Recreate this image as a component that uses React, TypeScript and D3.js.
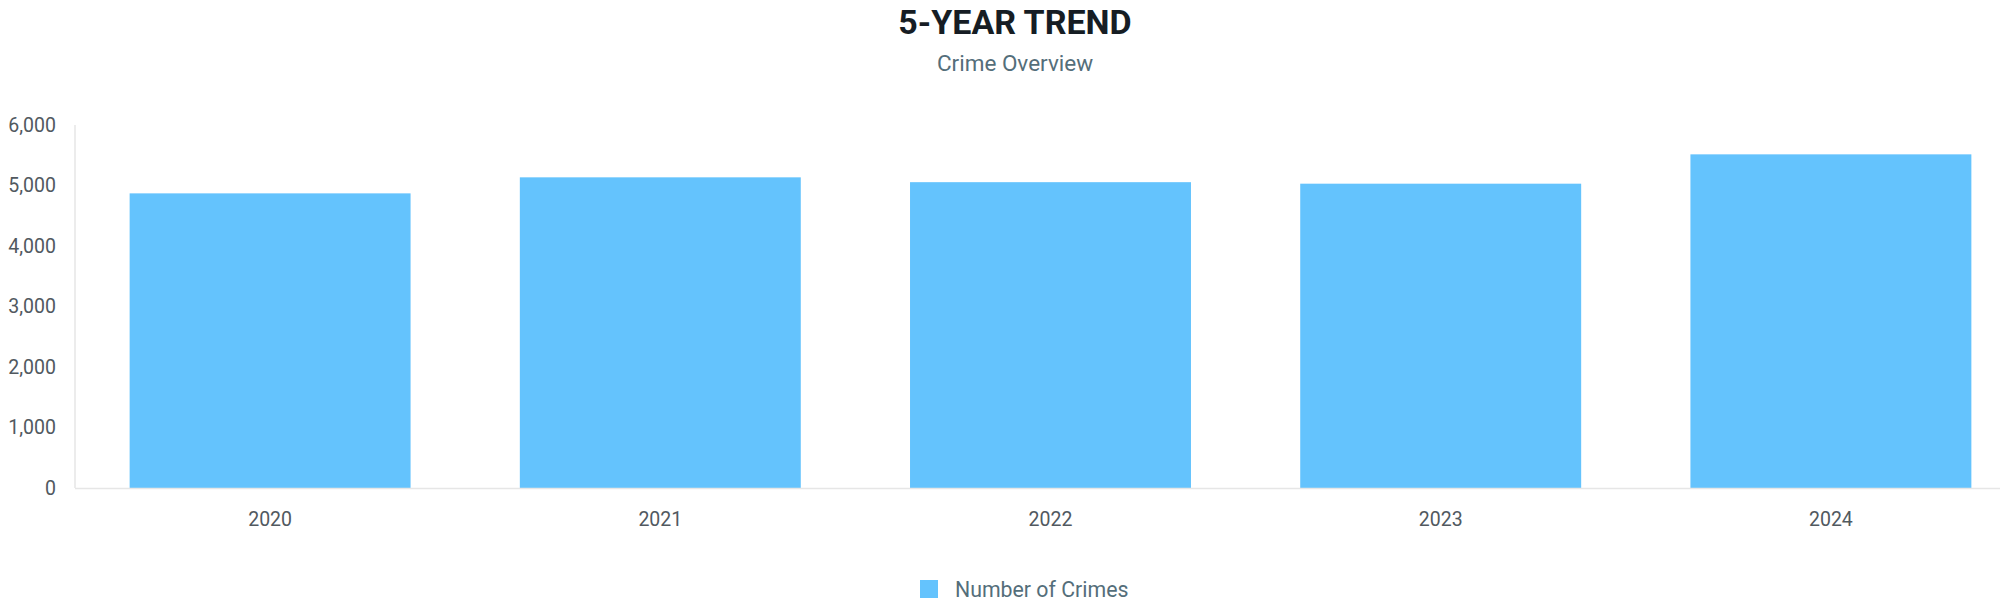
import React from "react";
import * as d3 from "d3";

const years = ["2020", "2021", "2022", "2023", "2024"];
const crimes = [4870, 5135, 5055, 5030, 5515];
const yTicks = [0, 1000, 2000, 3000, 4000, 5000, 6000];
const seriesName = "Number of Crimes";
const title = "5-YEAR TREND";
const subtitle = "Crime Overview";

const W = 2000;
const H = 614;
const chartCenter = 1015;
const plotLeft = 75;
const plotRight = 2026;
const plotTop = 125;
const plotBottom = 488;
const barColor = "#64c3fd";
const font = "Roboto, 'Noto Sans', sans-serif";

export default function App() {
  const x = d3
    .scaleBand<string>()
    .domain(years)
    .range([plotLeft, plotRight])
    .paddingInner(0.28)
    .paddingOuter(0.14);
  const y = d3.scaleLinear().domain([0, 6000]).range([plotBottom, plotTop]);
  const fmt = d3.format(",");

  return (
    <div style={{ position: "absolute", left: 0, top: 0 }}>
      <svg width={W} height={H} style={{ display: "block", background: "#fff" }} fontFamily={font}>
        <text x={chartCenter} y={34} textAnchor="middle" fontSize={34} fontWeight={700} fill="#161d24">
          {title}
        </text>
        <text x={chartCenter} y={71} textAnchor="middle" fontSize={22.5} fill="#546e7a">
          {subtitle}
        </text>

        {yTicks.map((t) => (
          <text key={t} x={56} y={y(t)} dy="0.35em" textAnchor="end" fontSize={19.5} fill="#51595f">
            {fmt(t)}
          </text>
        ))}

        <line x1={plotLeft} x2={plotLeft} y1={plotTop} y2={plotBottom} stroke="#e6e6e6" strokeWidth={1.5} />

        {years.map((yr, i) => (
          <rect
            key={yr}
            x={x(yr)}
            y={y(crimes[i])}
            width={x.bandwidth()}
            height={y(0) - y(crimes[i])}
            fill={barColor}
          />
        ))}

        <line x1={plotLeft} x2={W} y1={plotBottom + 0.5} y2={plotBottom + 0.5} stroke="#e6e6e6" strokeWidth={1.5} />

        {years.map((yr) => (
          <text
            key={yr}
            x={(x(yr) as number) + x.bandwidth() / 2}
            y={526}
            textAnchor="middle"
            fontSize={19.5}
            fill="#51595f"
          >
            {yr}
          </text>
        ))}

        <g>
          <rect x={920} y={580} width={18} height={18} fill={barColor} />
          <text x={955} y={597} fontSize={21.3} fill="#546e7a">
            {seriesName}
          </text>
        </g>
      </svg>
    </div>
  );
}
